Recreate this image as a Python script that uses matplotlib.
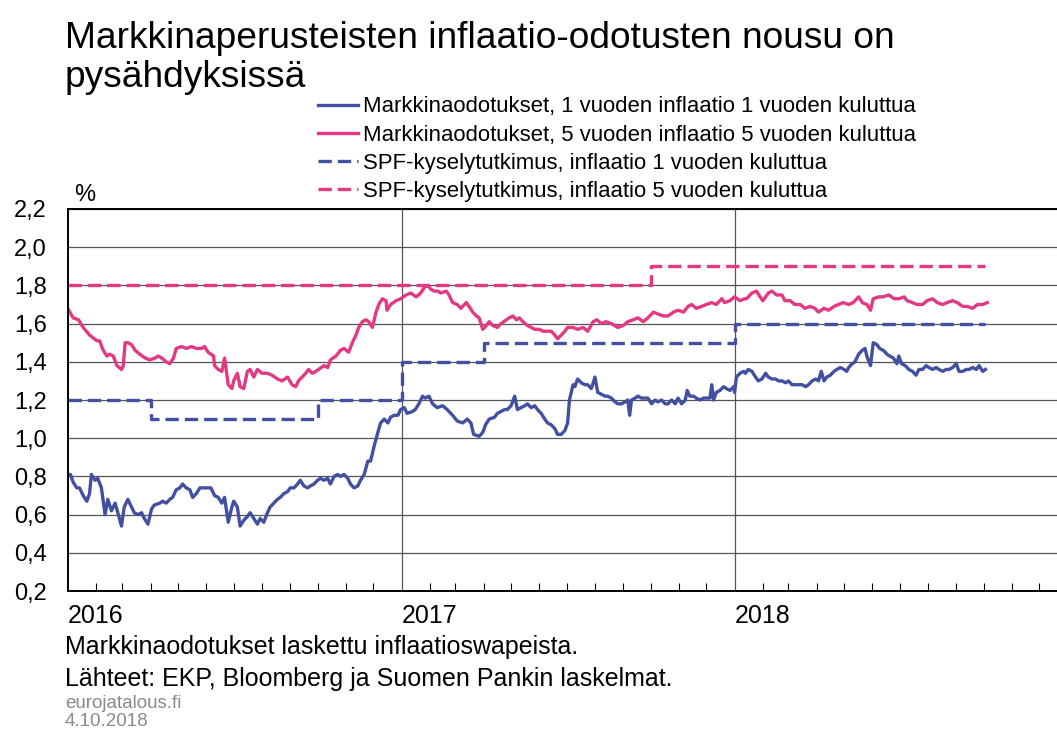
import pandas as pd
import matplotlib.pyplot as plt
import matplotlib.dates as mdates

plt.rcParams['font.family'] = ['Liberation Sans', 'DejaVu Sans']

# päivät alkaen 1.1.2016 ja arvot (%), luettu kuvasta
days_1y = [0, 3, 6, 10, 13, 17, 21, 24, 26, 30, 33, 37, 41, 44, 48, 52, 55, 59, 62, 66, 70, 73, 77, 81, 84, 88,
           92, 95, 101, 104, 108, 112, 115, 119, 123, 126, 130, 134, 137, 141, 145, 148, 154, 157, 161, 165, 169,
           172, 176, 180, 182, 186, 189, 193, 197, 200, 204, 208, 211, 215, 219, 222, 226, 230, 233, 237, 241,
           244, 248, 252, 255, 259, 263, 266, 270, 274, 277, 281, 285, 288, 292, 296, 299, 303, 307, 310, 314,
           318, 321, 325, 329, 332, 336, 340, 343, 347, 351, 354, 358, 362, 365, 369, 372, 378, 381, 385, 389,
           392, 396, 400, 405, 411, 416, 422, 427, 433, 438, 442, 445, 451, 455, 458, 462, 468, 471, 475, 479,
           482, 486, 490, 493, 497, 501, 504, 508, 512, 515, 519, 523, 526, 530, 534, 537, 541, 545, 548, 550,
           554, 556, 559, 563, 567, 570, 574, 578, 581, 585, 589, 592, 596, 600, 603, 607, 611, 614, 616, 618,
           622, 625, 629, 633, 636, 640, 644, 647, 651, 655, 658, 662, 666, 669, 673, 677, 679, 682, 686, 689,
           693, 697, 700, 704, 706, 708, 711, 715, 719, 722, 726, 730, 731, 733, 737, 741, 743, 746, 750, 754,
           757, 761, 765, 768, 772, 776, 779, 783, 787, 790, 794, 798, 801, 805, 809, 812, 816, 820, 823, 826,
           829, 832, 836, 840, 843, 847, 851, 854, 856, 860, 863, 867, 871, 874, 876, 880, 883, 887, 890, 894,
           898, 901, 905, 909, 911, 914, 918, 922, 926, 930, 933, 937, 941, 944, 948, 952, 955, 959, 963, 966,
           970, 974, 977, 981, 985, 988, 992, 996, 999, 1003, 1006]
vals_1y = [0.81, 0.81, 0.77, 0.74, 0.74, 0.70, 0.67, 0.71, 0.81, 0.78, 0.79, 0.74, 0.60, 0.68, 0.62, 0.66, 0.61,
           0.54, 0.64, 0.68, 0.64, 0.61, 0.60, 0.61, 0.58, 0.55, 0.63, 0.65, 0.66, 0.67, 0.66, 0.68, 0.69, 0.73,
           0.74, 0.76, 0.74, 0.73, 0.69, 0.71, 0.74, 0.74, 0.74, 0.74, 0.70, 0.69, 0.66, 0.69, 0.56, 0.64, 0.67,
           0.64, 0.54, 0.57, 0.59, 0.61, 0.58, 0.55, 0.58, 0.56, 0.61, 0.64, 0.66, 0.68, 0.69, 0.71, 0.72, 0.74,
           0.74, 0.76, 0.78, 0.75, 0.74, 0.75, 0.76, 0.78, 0.79, 0.78, 0.79, 0.76, 0.80, 0.81, 0.80, 0.81, 0.79,
           0.76, 0.74, 0.75, 0.78, 0.81, 0.88, 0.88, 0.96, 1.03, 1.08, 1.10, 1.08, 1.11, 1.12, 1.12, 1.15, 1.16,
           1.13, 1.14, 1.15, 1.18, 1.22, 1.21, 1.22, 1.18, 1.16, 1.17, 1.15, 1.12, 1.09, 1.08, 1.10, 1.08, 1.02,
           1.01, 1.03, 1.07, 1.10, 1.11, 1.13, 1.14, 1.15, 1.15, 1.17, 1.22, 1.15, 1.16, 1.17, 1.18, 1.16, 1.17,
           1.15, 1.13, 1.10, 1.08, 1.07, 1.05, 1.02, 1.02, 1.04, 1.08, 1.20, 1.28, 1.27, 1.31, 1.29, 1.28, 1.28,
           1.26, 1.32, 1.24, 1.23, 1.22, 1.22, 1.21, 1.19, 1.18, 1.18, 1.19, 1.20, 1.12, 1.20, 1.21, 1.22, 1.21,
           1.21, 1.21, 1.18, 1.20, 1.19, 1.20, 1.18, 1.18, 1.20, 1.18, 1.21, 1.18, 1.20, 1.25, 1.22, 1.22, 1.21,
           1.20, 1.21, 1.21, 1.21, 1.28, 1.20, 1.24, 1.25, 1.27, 1.26, 1.25, 1.27, 1.24, 1.32, 1.34, 1.35, 1.34,
           1.36, 1.35, 1.32, 1.30, 1.31, 1.34, 1.32, 1.31, 1.31, 1.30, 1.30, 1.29, 1.30, 1.28, 1.28, 1.28, 1.28,
           1.27, 1.28, 1.30, 1.31, 1.30, 1.35, 1.30, 1.32, 1.33, 1.35, 1.36, 1.37, 1.36, 1.35, 1.37, 1.39, 1.40,
           1.44, 1.46, 1.47, 1.43, 1.38, 1.50, 1.49, 1.47, 1.46, 1.44, 1.43, 1.42, 1.39, 1.43, 1.39, 1.38, 1.36,
           1.35, 1.33, 1.36, 1.36, 1.38, 1.37, 1.36, 1.37, 1.36, 1.35, 1.36, 1.36, 1.37, 1.39, 1.35, 1.35, 1.36,
           1.36, 1.37, 1.36, 1.38, 1.35, 1.36]

days_5y = [0, 6, 12, 17, 24, 32, 35, 39, 43, 46, 50, 54, 59, 61, 63, 66, 70, 74, 79, 85, 90, 96, 99, 103, 108,
           112, 116, 119, 125, 130, 136, 141, 147, 150, 154, 160, 161, 165, 169, 172, 176, 180, 182, 186, 189,
           193, 197, 200, 204, 208, 213, 219, 224, 230, 235, 241, 246, 250, 253, 257, 261, 264, 268, 272, 275,
           281, 285, 288, 294, 299, 303, 308, 312, 316, 319, 323, 327, 330, 334, 338, 341, 345, 349, 350, 354,
           360, 365, 371, 376, 382, 387, 391, 395, 398, 402, 406, 409, 415, 418, 422, 427, 431, 437, 440, 444,
           448, 451, 455, 459, 462, 466, 471, 475, 481, 484, 488, 492, 495, 499, 504, 508, 512, 517, 521, 526,
           530, 534, 537, 541, 545, 548, 554, 559, 565, 570, 576, 580, 585, 590, 596, 603, 609, 614, 620, 625,
           631, 636, 642, 647, 653, 658, 664, 669, 675, 680, 684, 689, 695, 700, 706, 711, 717, 720, 726, 731,
           737, 742, 744, 750, 755, 759, 762, 768, 772, 777, 783, 786, 792, 797, 803, 808, 814, 819, 823, 829,
           834, 840, 845, 850, 856, 861, 867, 871, 876, 880, 883, 889, 894, 900, 906, 911, 917, 920, 926, 931,
           937, 942, 948, 953, 959, 964, 970, 975, 981, 986, 992, 997, 1003, 1008]
vals_5y = [1.68, 1.63, 1.62, 1.58, 1.54, 1.51, 1.51, 1.46, 1.43, 1.44, 1.43, 1.38, 1.36, 1.38, 1.50, 1.50, 1.49,
           1.46, 1.44, 1.42, 1.41, 1.42, 1.43, 1.42, 1.40, 1.39, 1.42, 1.47, 1.48, 1.47, 1.48, 1.47, 1.47, 1.48,
           1.45, 1.43, 1.38, 1.36, 1.35, 1.42, 1.28, 1.26, 1.30, 1.34, 1.27, 1.26, 1.35, 1.36, 1.32, 1.36, 1.34,
           1.34, 1.33, 1.31, 1.30, 1.32, 1.28, 1.27, 1.30, 1.32, 1.34, 1.36, 1.34, 1.35, 1.36, 1.38, 1.37, 1.41,
           1.43, 1.46, 1.47, 1.45, 1.50, 1.54, 1.58, 1.61, 1.62, 1.61, 1.58, 1.66, 1.70, 1.73, 1.72, 1.67, 1.70,
           1.72, 1.73, 1.75, 1.76, 1.74, 1.76, 1.79, 1.80, 1.78, 1.77, 1.77, 1.76, 1.77, 1.75, 1.71, 1.70, 1.68,
           1.71, 1.69, 1.66, 1.64, 1.63, 1.57, 1.59, 1.61, 1.59, 1.58, 1.60, 1.62, 1.63, 1.64, 1.62, 1.63, 1.61,
           1.59, 1.58, 1.57, 1.57, 1.56, 1.56, 1.56, 1.54, 1.52, 1.54, 1.56, 1.58, 1.58, 1.57, 1.58, 1.56, 1.61,
           1.62, 1.60, 1.61, 1.60, 1.58, 1.59, 1.61, 1.62, 1.63, 1.61, 1.63, 1.66, 1.65, 1.64, 1.64, 1.66, 1.67,
           1.66, 1.69, 1.70, 1.68, 1.69, 1.70, 1.71, 1.70, 1.73, 1.71, 1.72, 1.74, 1.72, 1.73, 1.73, 1.76, 1.77,
           1.74, 1.72, 1.76, 1.77, 1.75, 1.75, 1.72, 1.72, 1.70, 1.70, 1.68, 1.69, 1.68, 1.66, 1.68, 1.67, 1.69,
           1.70, 1.71, 1.70, 1.71, 1.74, 1.71, 1.70, 1.67, 1.73, 1.74, 1.74, 1.75, 1.73, 1.73, 1.74, 1.72, 1.71,
           1.70, 1.70, 1.72, 1.73, 1.71, 1.70, 1.71, 1.72, 1.71, 1.69, 1.69, 1.68, 1.70, 1.70, 1.71]

# SPF-kysely (porrasviivat)
spf1_dates = ['2016-01-01', '2016-04-01', '2016-10-01', '2017-01-01', '2017-04-01', '2018-01-01', '2018-10-03']
spf1_vals = [1.2, 1.1, 1.2, 1.4, 1.5, 1.6, 1.6]
spf5_dates = ['2016-01-01', '2017-10-01', '2018-10-03']
spf5_vals = [1.8, 1.9, 1.9]

labels = ["Markkinaodotukset, 1 vuoden inflaatio 1 vuoden kuluttua",
          "Markkinaodotukset, 5 vuoden inflaatio 5 vuoden kuluttua",
          "SPF-kyselytutkimus, inflaatio 1 vuoden kuluttua",
          "SPF-kyselytutkimus, inflaatio 5 vuoden kuluttua"]
yticks = [0.2, 0.4, 0.6, 0.8, 1.0, 1.2, 1.4, 1.6, 1.8, 2.0, 2.2]
years = ['2016', '2017', '2018']

blue = "#4250a2"
pink = "#e33884"

start = pd.Timestamp('2016-01-01')
d1 = start + pd.to_timedelta(days_1y, unit='D')
d5 = start + pd.to_timedelta(days_5y, unit='D')

fig = plt.figure(figsize=(10.57, 7.31), dpi=100)
ax = fig.add_axes([0.064, 0.1915, 0.946, 0.5226])

lw = 2.4
dash = (4.0, 1.8)
ax.plot(d1, vals_1y, color=blue, lw=lw, label=labels[0])
ax.plot(d5, vals_5y, color=pink, lw=lw, label=labels[1])
ax.plot(pd.to_datetime(spf1_dates), spf1_vals, color=blue, lw=lw, dashes=dash,
        drawstyle='steps-post', label=labels[2])
ax.plot(pd.to_datetime(spf5_dates), spf5_vals, color=pink, lw=lw, dashes=dash,
        drawstyle='steps-post', label=labels[3])

ax.set_ylim(0.2, 2.2)
ax.set_xlim(pd.Timestamp('2016-01-01'), pd.Timestamp('2019-01-01'))
ax.set_yticks(yticks)
ax.set_yticklabels([f"{v:.1f}".replace('.', ',') for v in yticks], fontsize=17)
ax.grid(axis='y', color='#555555', lw=0.9)
ax.set_axisbelow(True)

# vuosirajat pystyviivoina
for y in years[1:]:
    ax.axvline(pd.Timestamp(y + '-01-01'), color='#555555', lw=0.9, zorder=0)

ax.xaxis.set_major_locator(mdates.YearLocator())
ax.xaxis.set_major_formatter(mdates.DateFormatter(''))
ax.xaxis.set_minor_locator(mdates.MonthLocator())
ax.tick_params(axis='x', which='minor', direction='in', length=6, width=0.8)
ax.tick_params(axis='x', which='major', direction='in', length=0)
ax.tick_params(axis='y', length=0, pad=15)

for y in years:
    ax.text(pd.Timestamp(y + '-01-01'), -0.035, y, transform=ax.get_xaxis_transform(),
            ha='left', va='top', fontsize=18)

for side in ['left', 'top', 'bottom']:
    ax.spines[side].set_linewidth(1.4)
ax.spines['right'].set_visible(False)

ax.text(0.006, 1.008, '%', transform=ax.transAxes, fontsize=17, ha='left', va='bottom')

fig.text(0.0615, 0.934, "Markkinaperusteisten inflaatio-odotusten nousu on",
         fontsize=26.7, ha='left', va='baseline')
fig.text(0.0615, 0.881, "pysähdyksissä", fontsize=26.7, ha='left', va='baseline')

fig.legend(loc='upper left', bbox_to_anchor=(0.301, 0.868), frameon=False, fontsize=15.9,
           handlelength=1.8, handletextpad=0.23, labelspacing=0.32, borderpad=0, borderaxespad=0)

fig.text(0.0615, 0.131, "Markkinaodotukset laskettu inflaatioswapeista.", fontsize=18, ha='left', va='top')
fig.text(0.0615, 0.087, "Lähteet: EKP, Bloomberg ja Suomen Pankin laskelmat.", fontsize=18, ha='left', va='top')
fig.text(0.0615, 0.0315, "eurojatalous.fi", fontsize=13.5, color='#8a8a8a', ha='left', va='baseline')
fig.text(0.0615, 0.0065, "4.10.2018", fontsize=13.5, color='#8a8a8a', ha='left', va='baseline')

fig.savefig('out.png', dpi=100)
